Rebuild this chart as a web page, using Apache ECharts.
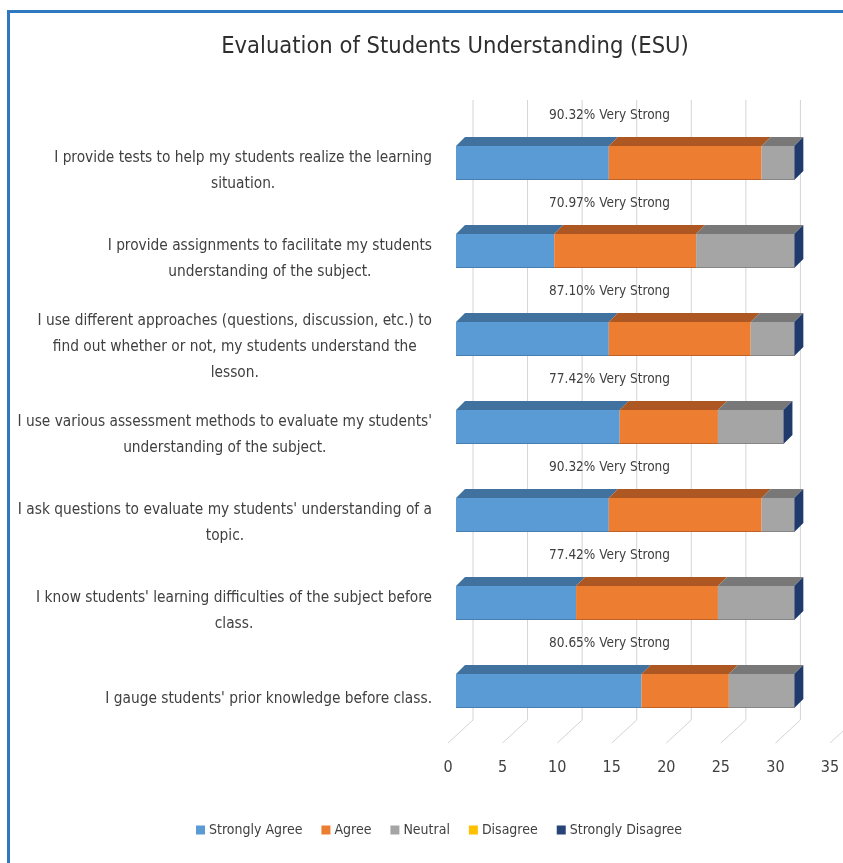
<!DOCTYPE html>
<html>
<head>
<meta charset="utf-8">
<title>Evaluation of Students Understanding (ESU)</title>
<script src="https://cdn.jsdelivr.net/npm/echarts@6/dist/echarts.min.js"></script>
<style>
  html, body { margin: 0; padding: 0; background: #ffffff; }
  #chart { width: 843px; height: 863px; }
</style>
</head>
<body>
<div id="chart"></div>
<script>
// Survey statements (top to bottom)
const categories = [
  "I provide tests to help my students realize the learning\nsituation.",
  "I provide assignments to facilitate my students\nunderstanding of the subject.",
  "I use different approaches (questions, discussion, etc.) to\nfind out whether or not, my students understand the\nlesson.",
  "I use various assessment methods to evaluate my students'\nunderstanding of the subject.",
  "I ask questions to evaluate my students' understanding of a\ntopic.",
  "I know students' learning difficulties of the subject before\nclass.",
  "I gauge students' prior knowledge before class."
];

// Number of respondents per answer
const stronglyAgree    = [14, 9, 14, 15, 14, 11, 17];
const agree            = [14, 13, 13, 9, 14, 13, 8];
const neutral          = [3, 9, 4, 6, 3, 7, 6];
const disagree         = [0, 0, 0, 0, 0, 0, 0];
const stronglyDisagree = [0, 0, 0, 0, 0, 0, 0];

const respondents = 31;
const xTicks = [0, 5, 10, 15, 20, 25, 30, 35];

const FONT = "'Liberation Sans Narrow', 'DejaVu Sans Condensed', 'Noto Sans', sans-serif";
const TEXT_COLOR = '#404040';

// pseudo-3D geometry (pixels)
const FRONT_DX = 8, FRONT_DY = 8;   // front face offset from the floor line
const DEPTH = 9;                    // bar depth
const BAR_H = 34;                   // front face height
const WALL_DX = 25, WALL_DY = 23;   // back wall offset
const LABEL_X = 14.8;               // anchor of the rating text on the value axis
const LABEL_DY = 56;

const answers = [
  { name: 'Strongly Agree',    values: stronglyAgree,    color: '#5b9bd5', top: '#41729f' },
  { name: 'Agree',             values: agree,            color: '#ed7d31', top: '#ad5722' },
  { name: 'Neutral',           values: neutral,          color: '#a5a5a5', top: '#787878' },
  { name: 'Disagree',          values: disagree,         color: '#ffc000', top: '#b88a00' },
  { name: 'Strongly Disagree', values: stronglyDisagree, color: '#264478', top: '#1c335a', side: '#1f3a6b' }
];

// cumulative starts for the stack
const running = categories.map(() => 0);
const stackData = answers.map(a => a.values.map((v, i) => {
  const start = running[i];
  running[i] += v;
  return [start, start + v, i];
}));

const ratingText = categories.map((_, i) =>
  ((stronglyAgree[i] + agree[i]) / respondents * 100).toFixed(2) + '% Very Strong');

function segmentRenderer(ans, isLast) {
  return function (params, api) {
    const cat = api.value(2);
    const a = api.coord([api.value(0), cat]);
    const b = api.coord([api.value(1), cat]);
    const x0 = a[0] + FRONT_DX, x1 = b[0] + FRONT_DX;
    const yTop = a[1] - FRONT_DY - BAR_H / 2, yBot = yTop + BAR_H;
    const children = [];
    if (x1 - x0 > 0.1) {
      children.push({
        type: 'rect',
        shape: { x: x0, y: yTop, width: x1 - x0, height: BAR_H },
        style: { fill: ans.color }
      });
      children.push({
        type: 'polygon',
        shape: { points: [[x0, yTop], [x1, yTop], [x1 + DEPTH, yTop - DEPTH], [x0 + DEPTH, yTop - DEPTH]] },
        style: { fill: ans.top }
      });
      children.push({
        type: 'line',
        shape: { x1: x0, y1: yBot - 0.5, x2: x1, y2: yBot - 0.5 },
        style: { stroke: ans.top, lineWidth: 1.2, opacity: 0.7 }
      });
    }
    if (isLast) {
      children.push({
        type: 'polygon',
        shape: { points: [[x1, yTop], [x1 + DEPTH, yTop - DEPTH], [x1 + DEPTH, yBot - DEPTH], [x1, yBot]] },
        style: { fill: ans.side || ans.top }
      });
    }
    return { type: 'group', children: children };
  };
}

// back wall and floor lines at each tick
function wallRenderer(params, api) {
  const cs = params.coordSys;
  const p = api.coord([api.value(0), 0]);
  const floorY = cs.y + cs.height;
  const wx = p[0] + WALL_DX;
  return {
    type: 'group',
    children: [
      { type: 'line', shape: { x1: wx, y1: cs.y - WALL_DY - 4, x2: wx, y2: floorY - WALL_DY },
        style: { stroke: '#d4d4d4', lineWidth: 1 } },
      { type: 'line', shape: { x1: wx, y1: floorY - WALL_DY, x2: p[0], y2: floorY },
        style: { stroke: '#d4d4d4', lineWidth: 1 } }
    ]
  };
}

function ratingRenderer(params, api) {
  const i = api.value(1);
  const p = api.coord([LABEL_X, i]);
  return {
    type: 'text',
    style: {
      x: p[0], y: p[1] - LABEL_DY,
      text: ratingText[params.dataIndex],
      fill: TEXT_COLOR, font: '13.5px ' + FONT,
      textAlign: 'center', textVerticalAlign: 'middle'
    }
  };
}

const chart = echarts.init(document.getElementById('chart'), null, { renderer: 'canvas' });

const series = [
  {
    type: 'custom', name: 'wall', silent: true, z: 1,
    renderItem: wallRenderer,
    encode: { x: 0 },
    data: xTicks.map(v => [v])
  }
].concat(answers.map((ans, k) => ({
  type: 'custom',
  name: ans.name,
  z: 2 + k,
  itemStyle: { color: ans.color },
  renderItem: segmentRenderer(ans, k === answers.length - 1),
  encode: { x: [0, 1], y: 2 },
  data: stackData[k]
}))).concat([{
  type: 'custom', name: 'rating', silent: true, z: 10,
  renderItem: ratingRenderer,
  encode: { x: 0, y: 1 },
  data: categories.map((_, i) => [LABEL_X, i])
}]);

chart.setOption({
  backgroundColor: '#ffffff',
  animation: false,
  textStyle: { fontFamily: FONT },
  title: {
    text: 'Evaluation of Students Understanding (ESU)',
    left: 450, top: 30, textAlign: 'center',
    textStyle: { fontFamily: FONT, fontSize: 23.5, fontWeight: 'normal', color: '#2e2e2e' }
  },
  graphic: [{
    type: 'rect', left: 6, top: 9, silent: true,
    shape: { width: 1000, height: 1000 },
    style: { fill: 'none', stroke: '#2f78c2', lineWidth: 3 }
  }],
  legend: {
    data: answers.map(a => a.name),
    top: 818, left: 191,
    icon: 'rect', itemWidth: 9, itemHeight: 9, itemGap: 19,
    textStyle: { fontFamily: FONT, fontSize: 14, color: TEXT_COLOR, padding: [0, 0, 0, -1] }
  },
  grid: { left: 448, top: 127, width: 382, height: 616, containLabel: false },
  xAxis: {
    type: 'value', min: 0, max: 35, interval: 5,
    axisLine: { show: false }, axisTick: { show: false }, splitLine: { show: false },
    axisLabel: { margin: 17, fontFamily: FONT, fontSize: 16, color: TEXT_COLOR }
  },
  yAxis: {
    type: 'category', inverse: true, data: categories,
    axisLine: { show: false }, axisTick: { show: false }, splitLine: { show: false },
    axisLabel: {
      margin: 16, align: 'right',
      formatter: v => v.split('\n').map(l => '{c|' + l + '}').join('\n'),
      rich: { c: { align: 'center', fontFamily: FONT, fontSize: 15.3, lineHeight: 26, color: TEXT_COLOR } }
    }
  },
  series: series
});
</script>
</body>
</html>
